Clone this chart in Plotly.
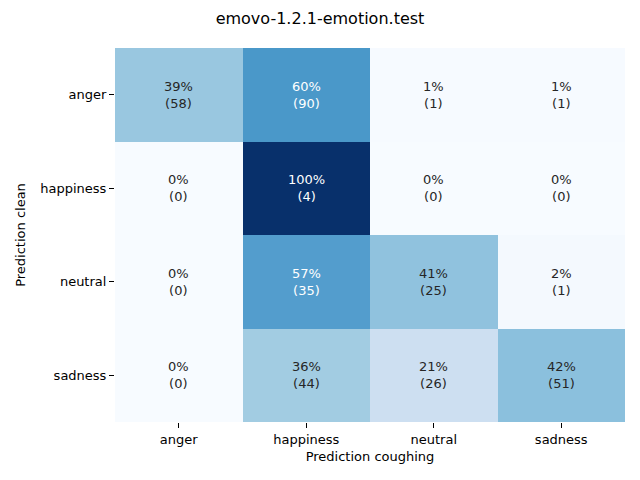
import plotly.graph_objects as go

labels = ["anger", "happiness", "neutral", "sadness"]
counts = [
    [58, 90, 1, 1],
    [0, 4, 0, 0],
    [0, 35, 25, 1],
    [0, 44, 26, 51],
]
title = "emovo-1.2.1-emotion.test"
xlabel = "Prediction coughing"
ylabel = "Prediction clean"

pct = []
for row in counts:
    tot = sum(row)
    pct.append([100.0 * c / tot if tot else 0.0 for c in row])

blues = [
    [0.0, "rgb(247,251,255)"], [0.125, "rgb(222,235,247)"], [0.25, "rgb(198,219,239)"],
    [0.375, "rgb(158,202,225)"], [0.5, "rgb(107,174,214)"], [0.625, "rgb(66,146,198)"],
    [0.75, "rgb(33,113,181)"], [0.875, "rgb(8,81,156)"], [1.0, "rgb(8,48,107)"],
]

fig = go.Figure(go.Heatmap(
    z=pct, x=labels, y=labels, colorscale=blues, zmin=0, zmax=100,
    showscale=False, hoverinfo="skip", xgap=0, ygap=0,
))

font = "DejaVu Sans"
anns = []
for i, yl in enumerate(labels):
    for j, xl in enumerate(labels):
        p = pct[i][j]
        anns.append(dict(
            x=xl, y=yl, text=f"{p:.0f}%<br>({counts[i][j]})", showarrow=False,
            font=dict(family=font, size=13, color="white" if p > 55 else "#262626"),
        ))

W, H = 632, 472
fig.update_layout(
    width=W, height=H,
    margin=dict(l=107, r=15, t=40, b=58),
    paper_bgcolor="white", plot_bgcolor="white",
    title=dict(text=title, x=312 / W, xanchor="center", y=1 - 10 / H, yanchor="middle",
               font=dict(family=font, size=16, color="black")),
    annotations=anns,
    font=dict(family=font, size=13, color="black"),
)
fig.update_xaxes(
    ticks="outside", ticklen=5, tickcolor="black", showgrid=False, zeroline=False,
    showline=False, title=dict(text=xlabel, font=dict(size=13), standoff=6),
    tickfont=dict(size=13),
)
fig.update_yaxes(
    ticks="outside", ticklen=5, tickcolor="black", showgrid=False, zeroline=False,
    showline=False, autorange="reversed", title=dict(text=ylabel, font=dict(size=13), standoff=11),
    tickfont=dict(size=13),
)
fig.write_html("out.html")
